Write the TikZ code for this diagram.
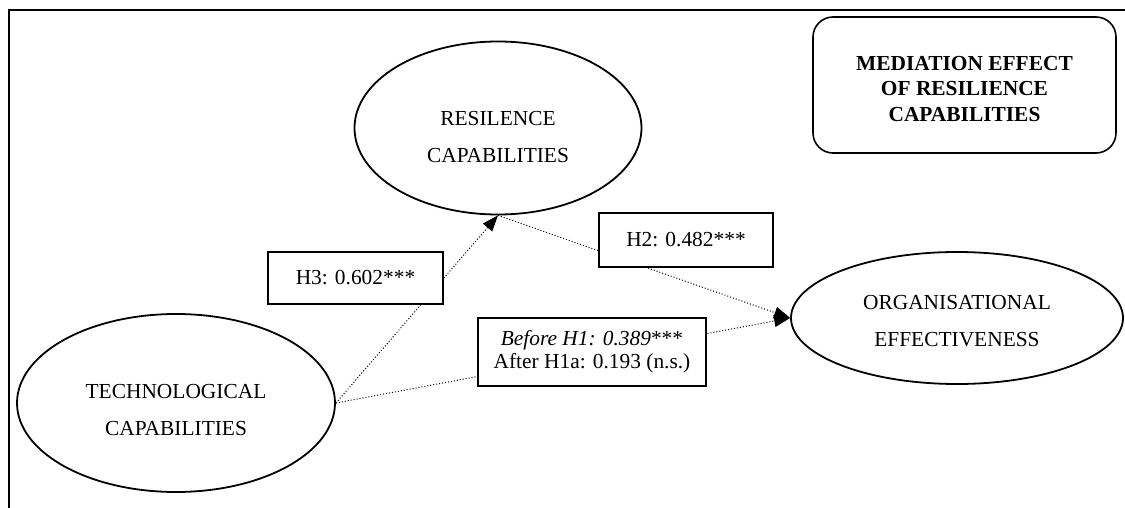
\documentclass[tikz,border=0pt]{standalone}
\usepackage{fontspec}
\setmainfont{Liberation Serif}
\usetikzlibrary{arrows.meta,shapes.geometric}
\newcommand{\topgap}[1]{\rule{0pt}{#1}}

\begin{document}
\begin{tikzpicture}[
  x=0.5pt, y=-0.5pt,
  font=\fontsize{10.7}{18.5}\selectfont,
  >={Triangle[length=8pt, width=6pt]},
  construct/.style={draw, ellipse, line width=0.9pt, inner sep=0pt, align=center},
  coeff/.style={draw, fill=white, line width=0.7pt, inner sep=0pt, align=center},
  titlebox/.style={draw, rounded corners=10pt, line width=0.8pt, align=center,
    font=\bfseries\fontsize{10.7}{12.7}\selectfont},
  effect/.style={->, densely dotted, line width=0.5pt},
  frameline/.style={line width=1.4pt}
]
  \useasboundingbox (0,0) rectangle (1125,508);
  \draw[frameline] (9,508) -- (9,10) -- (1125,10);

  % latent constructs
  \node[construct, minimum width=143.5pt, minimum height=86.5pt] (resil) at (498,128)
    {\topgap{16pt}RESILENCE\\CAPABILITIES};
  \node[construct, minimum width=159pt, minimum height=89pt] (techcap) at (176,403)
    {\topgap{14pt}TECHNOLOGICAL\\CAPABILITIES};
  \node[construct, minimum width=166pt, minimum height=66pt] (orgeff) at (957,318)
    {\topgap{10pt}ORGANISATIONAL\\EFFECTIVENESS};

  \node[titlebox, minimum width=151.5pt, minimum height=68pt] (title) at (964.5,85)
    {\topgap{11pt}MEDIATION EFFECT\\OF RESILIENCE\\CAPABILITIES};

  % paths
  \draw[effect] (techcap.east) -- (resil.south);
  \draw[effect] (resil.south) -- (orgeff.west);
  \draw[effect] (techcap.east) -- (orgeff.west);

  % path coefficients
  \node[coeff, minimum width=87.5pt, minimum height=26pt] (hthree) at (355.5,278)
    {H3: 0.602***};
  \node[coeff, minimum width=87pt, minimum height=27pt] (htwo) at (686,240)
    {H2: 0.482***};
  \node[coeff, minimum width=114pt, minimum height=34pt,
    font=\fontsize{10.7}{11.5}\selectfont] (hone) at (592,352)
    {\textit{Before H1: 0.389}***\\After H1a: 0.193 (n.s.)};
\end{tikzpicture}
\end{document}
